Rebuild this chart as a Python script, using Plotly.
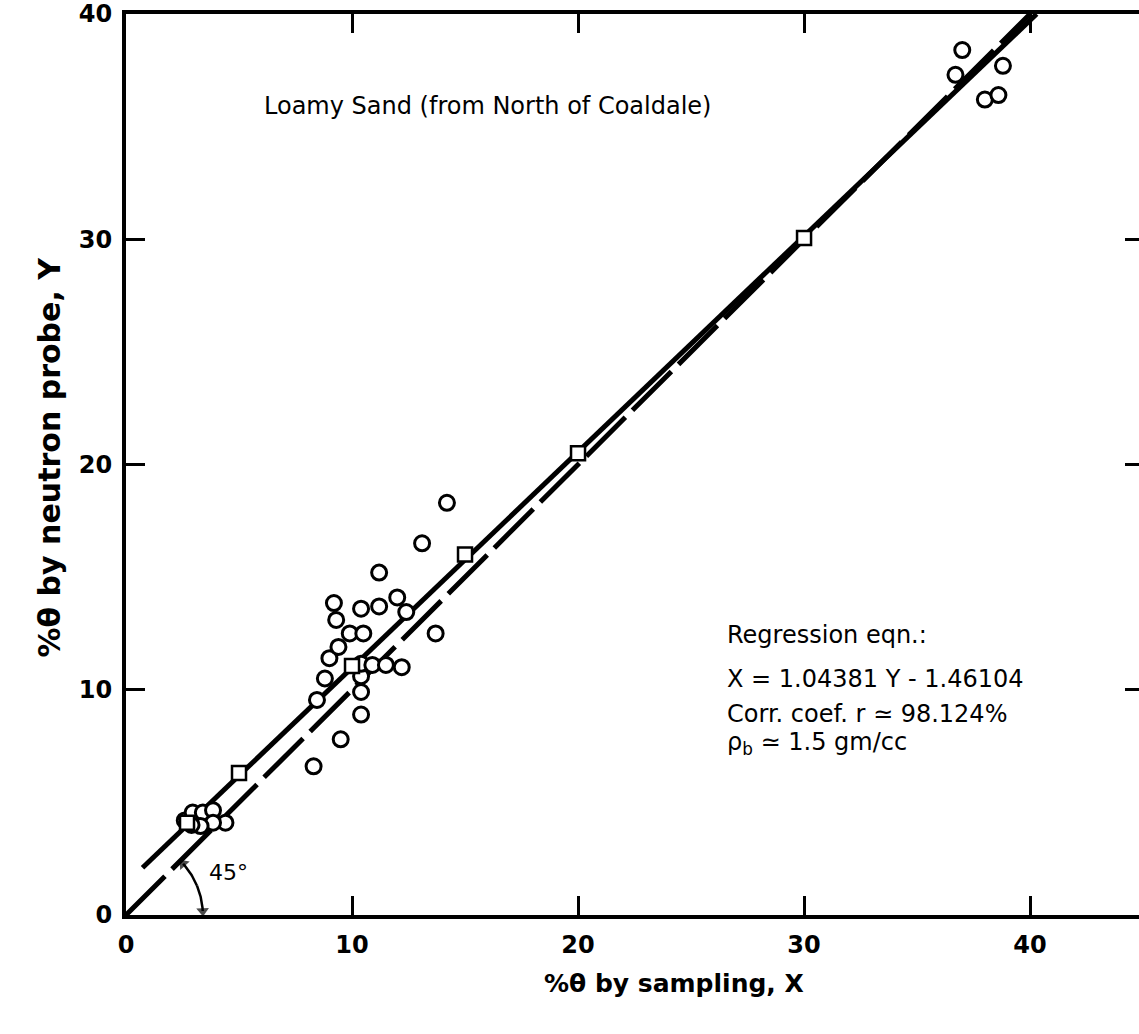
import numpy as np
import plotly.graph_objects as go

# ---- data ----
circle_x = [2.6, 2.95, 3.4, 3.85, 4.4, 3.85, 3.3, 2.9,
            8.3, 9.5, 10.4, 10.4, 8.45, 8.8, 10.4, 10.4, 10.9, 11.5, 12.2, 9.0, 9.4,
            9.9, 10.5, 13.7, 9.3, 12.4, 10.4, 11.2, 9.2, 12.0, 11.2, 13.1, 14.2,
            37.0, 36.7, 38.8, 38.0, 38.6]
circle_y = [4.2, 4.55, 4.55, 4.65, 4.1, 4.1, 3.95, 4.0,
            6.6, 7.8, 8.9, 9.9, 9.55, 10.5, 10.6, 11.15, 11.1, 11.1, 11.0, 11.4, 11.9,
            12.5, 12.5, 12.5, 13.1, 13.45, 13.6, 13.7, 13.85, 14.1, 15.2, 16.5, 18.3,
            38.4, 37.3, 37.7, 36.2, 36.4]

square_x = [2.7, 5, 10, 15, 20, 30]
square_y = [4.1, 6.3, 11.05, 16.0, 20.5, 30.05]

# regression X = a*Y + b, drawn over the Y span of the solid line
reg_a, reg_b = 1.04381, -1.46104
reg_y_span = [2.1, 40.0]
# 45 degree reference line
ref_span = [0.0, 40.0]

x_ticks = [0, 10, 20, 30, 40]
y_ticks = [0, 10, 20, 30, 40]
x_range = [0, 44.82]
y_range = [0, 40]

arc_radius = 3.4
arc_deg = [42, 22.5, 3]

FONT = "DejaVu Sans"

reg_y = np.array(reg_y_span)
reg_x = reg_a * reg_y + reg_b

fig = go.Figure()
fig.add_trace(go.Scatter(x=ref_span, y=ref_span, mode="lines",
                         line=dict(color="black", width=5, dash="55px,10px"),
                         hoverinfo="skip", showlegend=False))
fig.add_trace(go.Scatter(x=reg_x, y=reg_y, mode="lines",
                         line=dict(color="black", width=5),
                         hoverinfo="skip", showlegend=False))
fig.add_trace(go.Scatter(x=circle_x, y=circle_y, mode="markers",
                         marker=dict(symbol="circle", size=15, color="white",
                                     line=dict(color="black", width=3)),
                         showlegend=False))
fig.add_trace(go.Scatter(x=square_x, y=square_y, mode="markers",
                         marker=dict(symbol="square", size=14, color="white",
                                     line=dict(color="black", width=2.5)),
                         showlegend=False))

# 45 degree angle arc, drawn from its middle toward each end with an arrowhead
for end in (arc_deg[0], arc_deg[2]):
    th = np.radians(np.linspace(arc_deg[1], end, 25))
    ax_ = arc_radius * np.cos(th)
    ay_ = arc_radius * np.sin(th)
    sizes = [0] * (len(th) - 1) + [11]
    fig.add_trace(go.Scatter(x=ax_, y=ay_, mode="lines+markers", yaxis="y2",
                             line=dict(color="black", width=2.5),
                             marker=dict(symbol="triangle-up", size=sizes, angleref="previous",
                                         color="black", line=dict(width=0)),
                             hoverinfo="skip", showlegend=False))

TXT = dict(family=FONT, size=24, color="black")
annotations = [
    dict(x=6.0, y=35.93, xref="x", yref="y", text="Loamy Sand (from North of Coaldale)",
         showarrow=False, xanchor="left", yanchor="middle", font=TXT),
    dict(x=26.5, y=12.43, xref="x", yref="y", text="Regression eqn.:",
         showarrow=False, xanchor="left", yanchor="middle", font=TXT),
    dict(x=26.5, y=10.49, xref="x", yref="y", text="X = 1.04381 Y - 1.46104",
         showarrow=False, xanchor="left", yanchor="middle", font=TXT),
    dict(x=26.5, y=8.94, xref="x", yref="y", text="Corr. coef. r \u2243 98.124%",
         showarrow=False, xanchor="left", yanchor="middle", font=TXT),
    dict(x=26.5, y=7.6, xref="x", yref="y", text="\u03c1<sub>b</sub> \u2243 1.5 gm/cc",
         showarrow=False, xanchor="left", yanchor="middle", font=TXT),
    dict(x=3.58, y=1.9, xref="x", yref="y", text="45\u00b0",
         showarrow=False, xanchor="left", yanchor="middle",
         font=dict(family=FONT, size=22, color="black")),
    # axis titles
    dict(x=(674 - 126) / 1013, y=(915 - 1000) / 903, xref="paper", yref="paper",
         text="%\u03b8 by sampling, X", showarrow=False,
         font=dict(family=FONT, size=25, color="black", weight="bold")),
    dict(x=(30 - 126) / 1013, y=(915 - 456) / 903, xref="paper", yref="paper",
         text="%\u03b8 by neutron probe, Y", showarrow=False, textangle=-90,
         font=dict(family=FONT, size=30, color="black", weight="bold")),
]

TICKF = dict(family=FONT, size=24, color="black", weight="bold")
fig.update_layout(
    width=1139, height=1034,
    margin=dict(l=126, r=0, t=12, b=119),
    paper_bgcolor="white", plot_bgcolor="white",
    showlegend=False,
    xaxis=dict(range=x_range, tickvals=x_ticks, ticks="inside", ticklen=19, tickwidth=2.5,
               tickcolor="black", showline=True, linewidth=4, linecolor="black",
               mirror="ticks", showgrid=False, zeroline=False, ticklabelstandoff=5,
               ticklabeloverflow="allow", tickfont=TICKF),
    yaxis=dict(range=y_range, tickvals=y_ticks, ticks="inside", ticklen=19, tickwidth=2.5,
               tickcolor="black", showline=True, linewidth=4, linecolor="black",
               showgrid=False, zeroline=False, ticklabelstandoff=5,
               ticklabeloverflow="allow", tickfont=TICKF),
    yaxis2=dict(range=y_range, tickvals=y_ticks, overlaying="y", side="right",
                ticks="inside", ticklen=14, tickwidth=2.5, tickcolor="black",
                showline=False, showgrid=False, zeroline=False, showticklabels=False),
    annotations=annotations,
)

fig.write_html("out.html")
